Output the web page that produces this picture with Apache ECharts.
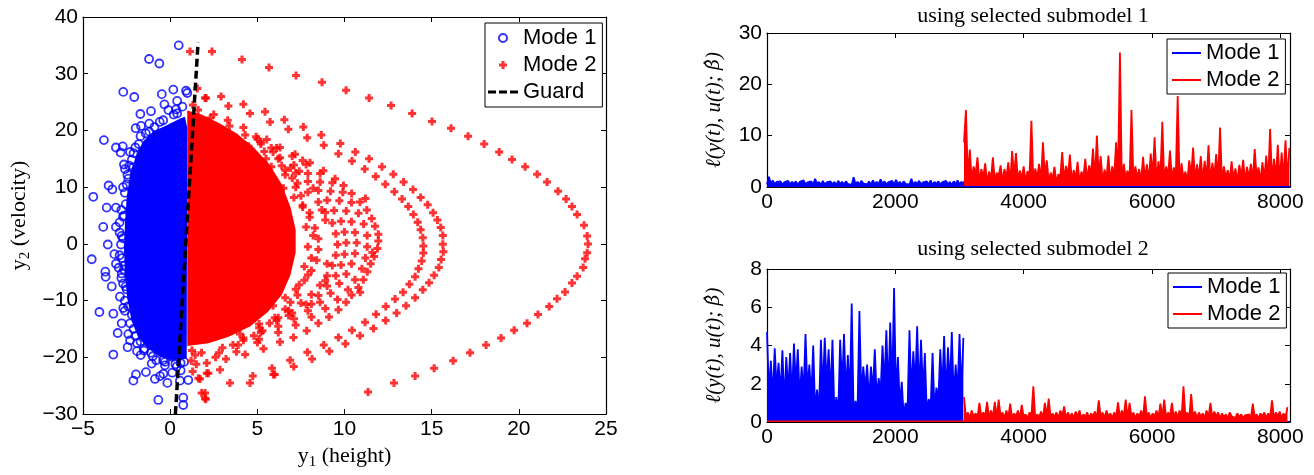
<!DOCTYPE html>
<html><head><meta charset="utf-8">
<script src="https://cdn.jsdelivr.net/npm/echarts@6/dist/echarts.min.js"></script>
<style>html,body{margin:0;padding:0;background:#fff}#c{width:1314px;height:475px}</style>
</head><body><div id="c"></div><script>
// ---------------- DATA ----------------
const GUARD = [[0.3, -30], [1.6, 35.5]];

// dense core regions of the phase-plane cloud (boundary)
const MODE1_CORE = [[0.57,22.1],[-0.2,20.9],[-0.97,19.8],[-1.54,18.1],[-1.92,15.8],[-2.3,12.3],[-2.49,8.3],[-2.59,3.7],[-2.65,-0.9],[-2.59,-5.5],[-2.46,-9.6],[-2.21,-13.6],[-1.83,-16.5],[-1.25,-18.5],[-0.58,-19.9],[0.09,-20.5],[0.95,-20.2],[0.98,20.4],[0.85,22.4]];
const MODE2_CORE = [[0.98,23.5],[1.8,22.8],[2.8,21.3],[3.8,19.5],[4.8,17],[5.7,14],[6.4,10.5],[6.9,6.5],[7.2,2.5],[7.2,-1.5],[6.9,-5.5],[6.4,-9],[5.6,-12],[4.6,-14.5],[3.4,-16.3],[2.2,-17.5],[0.98,-18]];

const MODE1_POINTS = [[0.49,35.0],[-1.21,32.6],[-0.62,31.8],[-2.69,26.8],[-2.06,25.9],[-0.48,26.4],[0.18,27.2],[0.91,27.0],[0.98,26.6],[-0.33,24.6],[-1.1,23.4],[-1.71,22.9],[0.34,23.7],[-1.98,20.4],[-1.67,20.8],[-3.8,18.3],[-3.11,17.0],[-2.72,17.2],[-2.84,16.1],[-2.3,16.2],[-2.65,14.0],[-2.59,13.2],[-2.11,13.5],[-3.53,10.3],[-3.32,9.6],[-4.41,8.3],[-3.64,6.4],[-3.11,6.4],[-3.84,3.0],[-3.11,3.0],[-2.78,1.4],[-3.58,-0.1],[-2.82,-0.1],[-4.5,-2.7],[-3.2,-1.8],[-3.11,-3.5],[-3.72,-4.9],[-3.7,-5.8],[-3.35,-7.5],[-2.78,-5.2],[-2.88,-9.3],[-2.69,-11.3],[-4.06,-12.0],[-3.26,-12.3],[-2.78,-14.0],[-3.01,-15.7],[-2.4,-15.9],[-3.26,-19.5],[-2.44,-18.2],[-1.69,-19.6],[-1.96,-23.0],[-2.11,-24.1],[-1.39,-22.6],[-0.87,-23.8],[-0.58,-23.3],[-0.39,-22.9],[-0.16,-24.5],[0.12,-22.7],[-0.68,-27.5],[0.75,-27.1],[0.75,-28.4],[1.04,-24.0],[0.56,-24.1],[-1.06,-21.1],[-0.3,-21.4],[0.38,-21.6],[0.09,-19.9],[-2.7,10.0],[-2.8,6.0],[-2.9,2.0],[-2.9,-2.0],[-2.8,-6.0],[-2.6,-10.0],[-2.3,-14.0],[-1.9,-17.5],[-1.0,-19.8],[-2.1,16.0],[-1.4,19.5],[-0.6,21.5],[0.2,22.8],[0.7,24.2],[-2.4,11.5],[-2.5,-8.0],[-2.0,-16.2],[-1.5,-18.8],[-0.3,-20.8],[0.6,-21.0],[-1.8,17.6],[-0.9,20.6],[0.4,25.2],[-2.2,-12.5],[-2.6,-3.8],[-2.7,4.8],
 [-2.5,10.5],[-2.55,7.0],[-2.65,5.0],[-2.7,1.0],[-2.75,-2.5],[-2.65,-4.5],[-2.55,-7.5],[-2.4,-11.0],[-2.1,-15.0],[-1.7,-17.2],[-1.1,-19.2],[-0.4,-20.5],[0.3,-21.2],[0.8,-20.8],[-2.35,13.8],[-2.0,17.0],[-1.2,19.8],[-0.4,21.8],[0.4,23.0],[-1.7,19.0],[-2.2,14.8],[-2.6,9.0],[-2.7,-7.0],[-1.5,-18.5],[-0.8,-20.5],[0.6,-22.3],[-2.45,12.2],[-2.6,-11.8],[-1.2,21.2],[-0.1,23.6],[-1.9,-18.9],[-2.9,3.8],[-2.95,-4.2],[-2.3,-17.0]];

const MODE2_OUTER = [[1.14,33.9],[2.4,33.9],[4.12,32.5],[5.67,31.1],[7.22,29.7],[8.71,28.5],[10.09,27.1],[11.41,25.7],[12.67,24.4],[13.88,23.0],[15.02,21.6],[16.11,20.4],[17.09,19.0],[18.01,17.6],[18.87,16.2],[19.61,14.9],[20.36,13.6],[21.05,12.3],[21.62,10.9],[22.25,9.3],[22.71,7.9],[23.05,6.6],[23.34,5.2],[23.74,3.3],[23.92,1.4],[23.97,0],[23.92,-1.55],[23.8,-2.6],[23.69,-4.15],[23.34,-5.7],[23.05,-6.9],[22.65,-8.46],[22.19,-9.67],[21.74,-11.05],[21.1,-12.44],[20.47,-14.0],[19.73,-15.2],[18.98,-16.6],[18.12,-17.8],[17.2,-19.2],[16.23,-20.6],[15.14,-21.9],[14.05,-23.3],[12.84,-24.5],[11.35,-26.1]];
const MODE2_RING_A = [[2.92,26.0],[4.2,24.6],[5.44,23.3],[6.55,21.9],[7.64,20.6],[8.67,19.2],[9.76,17.7],[10.62,16.2],[11.41,15.0],[12.15,13.6],[12.8,12.3],[13.39,10.9],[13.93,9.6],[14.37,8.2],[14.77,6.9],[15.08,5.5],[15.33,4.2],[15.52,2.9],[15.64,1.5],[15.64,-0.06],[15.67,-1.38],[15.54,-2.76],[15.41,-4.15],[15.14,-5.53],[14.85,-6.85],[14.49,-8.1],[14.05,-9.5],[13.53,-10.9],[12.99,-12.2],[12.36,-13.5],[11.66,-14.9],[10.89,-16.2],[10.05,-17.6],[9.13,-18.9],[8.14,-20.3],[7.09,-21.6],[6.0,-23.0],[4.58,-24.5],[3.43,-24.5],[1.81,-26.3],[2.0,-27.2]];
const MODE2_RING_B = [[2.0,25.7],[3.34,24.3],[4.58,23.0],[5.73,21.5],[6.78,20.2],[7.86,18.7],[8.81,17.4],[9.65,15.9],[10.43,14.6],[11.16,13.2],[11.79,11.9],[12.34,10.5],[12.86,9.2],[13.3,7.9],[13.66,6.6],[13.95,5.2],[14.2,3.8],[14.37,2.5],[14.49,1.1],[14.52,-0.35],[14.52,-1.6],[14.43,-3.0],[14.24,-4.4],[14.05,-5.8],[13.72,-7.1],[13.36,-8.5],[12.9,-9.7],[12.37,-11.05],[11.81,-12.4],[11.18,-13.8],[10.43,-15.2],[9.65,-16.5],[8.81,-17.8],[7.87,-19.1],[6.88,-20.5],[5.84,-21.9],[4.74,-23.3],[5.92,-23.0],[2.86,-22.2],[2.19,-22.8],[1.71,-23.8]];
const MODE2_RING_C = [[4.93,18.9],[5.54,18.4],[6.3,17.0],[7.16,15.8],[8.02,14.3],[8.79,12.9],[9.46,11.5],[9.94,10.3],[10.41,8.9],[10.89,7.4],[11.28,6.0],[11.56,4.5],[11.75,3.1],[11.94,1.7],[11.94,0.5],[11.89,-0.8],[11.7,-2.2],[11.5,-3.5],[11.31,-4.9],[11.08,-6.3],[10.8,-7.7],[10.41,-9.0],[10.09,-10.3],[9.65,-11.6],[9.11,-12.9],[8.5,-14.0],[7.83,-15.3],[7.07,-16.5],[6.3,-17.3],[5.35,-18.5],[4.3,-19.5],[3.2,-20.3],[2.1,-21.0]];
const MODE2_RING_D = [[4.5,17.2],[5.4,16.3],[6.3,15.2],[7.1,13.9],[7.9,12.4],[8.6,10.9],[9.2,9.3],[9.7,7.6],[10.1,5.8],[10.4,3.9],[10.6,2.0],[10.7,0.2],[10.6,-1.7],[10.4,-3.5],[10.1,-5.3],[9.7,-7.0],[9.2,-8.7],[8.6,-10.3],[7.9,-11.8],[7.1,-13.2],[6.2,-14.5],[5.2,-15.6],[4.2,-16.6]];
const MODE2_RING_E = [[4.0,15.8],[4.9,14.8],[5.8,13.6],[6.6,12.2],[7.3,10.7],[7.9,9.1],[8.5,7.4],[8.9,5.6],[9.3,3.7],[9.5,1.8],[9.6,-0.1],[9.5,-2.0],[9.3,-3.8],[9.0,-5.6],[8.6,-7.3],[8.1,-8.9],[7.5,-10.4],[6.8,-11.8],[6.0,-13.0],[5.1,-14.1]];
const MODE2_RING_F = [[5.0,12.5],[5.8,11.2],[6.5,9.8],[7.1,8.2],[7.6,6.5],[8.0,4.7],[8.3,2.8],[8.5,0.9],[8.5,-1.0],[8.4,-2.9],[8.1,-4.7],[7.7,-6.4],[7.2,-8.0],[6.6,-9.5],[5.9,-10.9],[11.2,8.0],[11.6,-1.5],[10.9,-8.5],[5.8,16.9],[7.6,14.7]];
const MODE2_RING_G = [[5.2,18.0],[6.1,16.9],[7.0,15.5],[7.8,14.0],[8.6,12.4],[9.3,10.8],[9.9,9.1],[10.4,7.3],[10.8,5.4],[11.1,3.5],[11.3,1.5],[11.3,-0.5],[11.2,-2.5],[11.0,-4.4],[10.6,-6.3],[10.2,-8.1],[9.6,-9.8],[8.9,-11.4],[8.1,-12.9],[7.2,-14.3],[6.2,-15.6],[5.1,-16.8],[3.9,-17.8]];
const MODE2_RING_H = [[4.6,16.0],[5.5,15.0],[6.4,13.8],[7.2,12.5],[7.9,11.0],[8.5,9.4],[9.0,7.7],[9.4,5.9],[9.8,4.0],[10.0,2.1],[10.1,0.2],[10.0,-1.8],[9.8,-3.7],[9.5,-5.6],[9.0,-7.4],[8.5,-9.1],[7.8,-10.7],[7.0,-12.2],[6.1,-13.5],[5.1,-14.8],[4.0,-15.9]];
const MODE2_EDGE = [[1.3,24.5],[1.6,23.6],[2.5,22.8],[3.3,21.8],[4.2,20.5],[5.0,18.5],[5.9,16.2],[6.6,13.0],[7.2,10.0],[7.6,6.8],[7.8,3.0],[7.9,-0.5],[7.7,-4.0],[7.4,-7.2],[6.9,-10.3],[6.2,-13.0],[5.3,-15.3],[4.2,-17.0],[3.0,-18.3],[1.8,-19.2],[1.25,-18.8],[1.43,-19.6],[1.29,-22.5],[1.62,-23.7],[2.1,-22.8],[2.0,-26.3],[2.04,-27.4],[1.56,27.4],[2.06,25.7],[1.2,-20.6],[1.5,-21.2],[2.6,-20.0],[3.8,-19.0],
 [7.5,8.5],[8.0,5.5],[8.2,1.5],[8.1,-2.5],[7.9,-5.5],[7.3,-9.0],[6.6,-11.5],[5.7,-14.0],[4.8,-16.2],[3.6,-17.8],[6.2,15.0],[5.2,17.6],[4.3,19.2],[3.4,20.8],[2.3,22.2],[7.0,11.6],[8.9,4.2],[9.0,-3.5],[8.7,6.0],[6.8,-12.6],[5.0,-17.4],[2.8,-19.2],[7.4,12.8],[8.2,9.8],[8.9,-6.5],[8.1,-10.6],[6.9,13.4]];

// right panels: cost over time (t = start + i*step)
const STEP = 30;
const T_SWITCH = 3070;
const T_END = 8150;
const TOP_MODE1 = [0.5,2.0,0.6,1.3,0.5,1.0,0.7,1.1,0.4,0.9,0.6,1.2,0.5,1.0,0.6,1.1,0.4,1.0,0.7,1.3,0.5,0.9,0.6,1.1,0.5,1.6,0.6,1.0,0.4,1.2,0.5,0.9,0.7,1.1,0.5,1.0,0.4,1.2,0.6,1.0,0.5,1.1,0.6,0.9,0.4,1.9,0.6,1.0,0.5,1.2,0.7,1.0,0.5,1.1,0.4,1.3,0.6,1.0,0.5,1.5,0.6,1.1,0.5,0.9,0.7,1.2,0.4,1.4,0.6,1.0,0.5,1.1,0.6,0.9,0.5,1.6,0.4,1.0,0.6,1.2,0.5,0.9,0.7,1.1,0.5,1.3,0.4,1.0,0.6,1.1,0.5,0.9,0.6,1.2,0.5,1.0,0.4,1.1,0.6,1.3,0.5,1.0,0.6,1.5];
const TOP_MODE2 = [8.7,15.0,1.6,7.3,1.3,4.0,2.4,5.8,1.0,3.5,
 1.9,4.6,0.8,3.0,1.6,5.8,1.1,2.8,2.2,4.2,
 1.0,3.5,1.8,4.8,0.8,7.0,2.1,6.6,1.3,3.2,
 1.6,4.0,1.0,3.1,1.9,12.9,1.3,3.6,1.8,4.5,
 1.1,8.7,2.1,5.2,1.0,2.8,1.6,3.9,0.8,2.5,
 1.9,6.8,1.3,4.1,2.2,6.3,1.1,3.3,1.6,4.9,
 1.0,3.0,1.9,5.5,1.3,4.2,2.4,7.5,1.4,10.0,
 2.1,6.0,1.1,3.4,1.6,6.1,1.0,4.0,1.9,8.7,
 2.4,26.2,0.6,4.5,1.8,3.2,1.3,15.0,1.1,4.0,
 1.9,3.5,1.0,5.9,1.6,4.4,1.3,6.5,2.1,9.7,
 1.1,5.0,1.9,12.7,1.0,4.0,2.2,7.1,1.4,3.8,
 1.8,17.7,0.5,4.6,1.6,3.0,1.1,5.2,2.1,7.7,
 1.3,4.4,1.9,6.0,1.0,5.1,1.6,8.1,1.1,4.7,
 2.1,6.4,1.4,11.6,1.0,4.0,1.9,3.3,1.3,5.0,
 1.6,3.6,1.0,4.3,1.9,5.3,1.1,3.9,1.8,4.5,
 1.3,7.4,2.1,3.8,1.0,4.8,1.6,6.1,1.4,11.3,
 1.1,5.5,1.9,8.2,1.0,6.7,1.8,9.1,1.3,7.6];
const TOP_MODE1_LATE = 0.06;
const TOP_MODE2_EARLY = 0.05;

const BOT_MODE1 = [4.7,1.5,3.2,1.2,3.85,1.8,3.1,1.4,3.75,0.9,3.4,1.6,3.6,1.3,4.1,1.9,3.8,1.2,2.9,1.5,4.6,1.7,3.0,1.3,4.0,0.6,1.7,0.5,4.3,1.6,4.4,1.9,3.8,1.4,4.3,0.5,1.3,0.4,4.3,1.8,4.6,1.5,3.5,1.2,6.2,0.4,1.1,0.5,5.8,1.3,2.9,1.7,3.0,1.1,2.9,1.6,3.8,1.2,2.3,1.5,4.0,1.9,4.8,1.4,5.2,1.7,7.0,1.3,3.4,0.8,2.1,0.3,1.0,0.6,4.8,1.5,3.7,1.9,5.0,1.4,4.3,1.6,3.6,0.5,1.2,0.7,3.6,0.6,1.8,1.1,3.8,1.6,4.5,1.3,3.9,1.8,4.7,1.2,3.0,1.5,4.6,1.4,4.4];
const BOT_MODE2 = [1.3,0.25,0.5,0.2,0.6,0.3,0.45,0.2,1.0,0.25,0.5,0.3,1.05,0.2,0.6,0.25,1.05,0.2,1.17,0.3,0.5,0.2,0.6,0.25,0.96,0.2,0.45,0.3,0.6,0.2,0.9,0.25,0.4,0.2,0.5,0.3,1.86,0.2,0.4,0.25,0.55,0.2,1.0,0.3,1.22,0.2,0.45,0.25,0.5,0.2,0.6,0.3,0.82,0.2,0.5,0.25,0.45,0.2,0.55,0.3,0.6,0.2,0.4,0.25,0.5,0.2,0.45,0.3,0.55,0.2,1.13,0.25,0.5,0.2,0.6,0.3,0.45,0.2,0.5,0.25,1.03,0.2,0.6,0.3,1.17,0.2,1.0,0.25,0.5,0.2,0.45,0.3,0.6,0.2,1.34,0.25,0.5,0.2,0.45,0.3,0.6,0.2,0.96,0.25,1.17,0.2,0.5,0.3,1.0,0.2,0.55,0.25,0.6,0.2,1.86,0.3,0.5,0.2,1.46,0.25,0.55,0.2,0.5,0.3,0.45,0.2,0.6,0.25,1.0,0.2,0.55,0.3,0.5,0.2,0.45,0.25,0.4,0.2,0.5,0.3,0.4,0.2,0.45,0.25,0.4,0.2,0.35,0.3,0.4,0.2,0.96,0.25,0.4,0.2,0.45,0.3,0.5,0.2,0.45,0.25,1.13,0.2,0.5,0.3,0.55,0.2,0.45,0.25,0.78];
const BOT_MODE1_LATE = 0.02;
const BOT_MODE2_EARLY = 0.04;

const TITLES = ['using selected submodel 1', 'using selected submodel 2'];

// ---------------- CHART ----------------
const SANS = '"Liberation Sans", Arial, Helvetica, sans-serif';
const SERIF = '"Liberation Serif", "Times New Roman", serif';
const BLUE = '#0000ff', RED = '#ff0000';
const PLUS = 'path://M2.5,0h3v2.5h2.5v3h-2.5v2.5h-3v-2.5h-2.5v-3h2.5z';
const DASH_ICON = 'path://M0,0h8v3h-8z M11,0h8v3h-8z M22,0h8v3h-8z';

const toXY = (arr, start) => arr.map((v, i) => [start + i * STEP, v]);
const minusFmt = v => String(v).replace('-', '\u2212');

function axisBase(extra) {
  return Object.assign({
    type: 'value',
    axisLine: {show: true, onZero: false, lineStyle: {color: '#000', width: 1.2}},
    axisTick: {show: true, inside: true, length: 5, lineStyle: {color: '#000', width: 1}},
    splitLine: {show: false},
    axisLabel: {color: '#000', fontFamily: SANS, fontSize: 21, margin: 5, formatter: minusFmt}
  }, extra);
}
const noLab = {show: false};
const tFmt = v => (v % 2000 === 0 ? String(v) : '');
const subRich = {n: {fontFamily: SERIF, fontSize: 22, color: '#000', lineHeight: 28}, s: {fontFamily: SERIF, fontSize: 15, color: '#000', verticalAlign: 'bottom', lineHeight: 15}};

const grids = [
  {left: 83, right: 708, top: 17, bottom: 53},
  {left: 767, right: 24, top: 33, bottom: 288},
  {left: 767, right: 24, top: 269, bottom: 53}
];

const xAxis = [
  axisBase({gridIndex: 0, position: 'bottom', min: -5, max: 25, interval: 5,
    name: '{n|y}{s|1}{n| (height)}', nameLocation: 'middle', nameGap: 22, nameTextStyle: {rich: subRich}}),
  axisBase({gridIndex: 0, position: 'top', min: -5, max: 25, interval: 5, axisLabel: noLab}),
  axisBase({gridIndex: 1, position: 'bottom', min: 0, max: T_END, interval: 2000, axisLabel: {color: '#000', fontFamily: SANS, fontSize: 21, margin: 5, formatter: tFmt}}),
  axisBase({gridIndex: 1, position: 'top', min: 0, max: T_END, interval: 2000, axisLabel: noLab}),
  axisBase({gridIndex: 2, position: 'bottom', min: 0, max: T_END, interval: 2000, axisLabel: {color: '#000', fontFamily: SANS, fontSize: 21, margin: 5, formatter: tFmt}}),
  axisBase({gridIndex: 2, position: 'top', min: 0, max: T_END, interval: 2000, axisLabel: noLab})
];
const costName = '{i|ℓ(y(t), u(t); }{b|β̂}{i|)}';
const costStyle = {rich: {
  i: {fontFamily: SERIF, fontStyle: 'italic', fontSize: 21, color: '#000'},
  b: {fontFamily: '"DejaVu Serif", serif', fontStyle: 'italic', fontSize: 19, color: '#000'}}};
const yAxis = [
  axisBase({gridIndex: 0, position: 'left', min: -30, max: 40, interval: 10,
    name: '{n|y}{s|2}{n| (velocity)}', nameLocation: 'middle', nameGap: 50, nameTextStyle: {rich: subRich}}),
  axisBase({gridIndex: 0, position: 'right', min: -30, max: 40, interval: 10, axisLabel: noLab}),
  axisBase({gridIndex: 1, position: 'left', min: 0, max: 30, interval: 10, name: costName, nameLocation: 'middle', nameGap: 42, nameTextStyle: costStyle}),
  axisBase({gridIndex: 1, position: 'right', min: 0, max: 30, interval: 10, axisLabel: noLab}),
  axisBase({gridIndex: 2, position: 'left', min: 0, max: 8, interval: 2, name: costName, nameLocation: 'middle', nameGap: 42, nameTextStyle: costStyle}),
  axisBase({gridIndex: 2, position: 'right', min: 0, max: 8, interval: 2, axisLabel: noLab})
];

function poly(name, pts, color) {
  return {type: 'custom', name, xAxisIndex: 0, yAxisIndex: 0, data: pts, silent: true, z: 1,
    encode: {x: 0, y: 1},
    renderItem: (params, api) => {
      if (params.dataIndex !== 0) return null;
      return {type: 'polygon', shape: {points: pts.map(p => api.coord(p))}, style: {fill: color}};
    }};
}
const circ = {type: 'scatter', xAxisIndex: 0, yAxisIndex: 0, symbol: 'circle', symbolSize: 8,
  itemStyle: {color: 'rgba(0,0,0,0)', borderColor: BLUE, borderWidth: 1.8}, z: 2};
const plus = {type: 'scatter', xAxisIndex: 0, yAxisIndex: 0, symbol: PLUS, symbolSize: 8,
  itemStyle: {color: RED}, z: 3};
const red2 = [].concat(MODE2_OUTER, MODE2_RING_A, MODE2_RING_B, MODE2_RING_C, MODE2_RING_D, MODE2_RING_E, MODE2_RING_F, MODE2_RING_G, MODE2_RING_H, MODE2_EDGE);

function ln(name, xi, yi, data, color, area, z, w) {
  const s = {type: 'line', name, xAxisIndex: xi, yAxisIndex: yi, data, symbol: 'none', showSymbol: false,
    sampling: null, lineStyle: {color, width: w || 1.2}, itemStyle: {color}, z: z || 2, silent: true};
  if (area) s.areaStyle = {color, opacity: 1};
  return s;
}

const series = [
  Object.assign({}, circ, {name: 'Mode 1', data: MODE1_POINTS}),
  poly('core1', MODE1_CORE, BLUE),
  Object.assign({}, plus, {name: 'Mode 2', data: red2}),
  poly('core2', MODE2_CORE, RED),
  {type: 'line', name: 'Guard', xAxisIndex: 0, yAxisIndex: 0, data: GUARD, symbol: 'none',
    lineStyle: {color: '#000', width: 3.5, type: [8, 4]}, itemStyle: {color: '#000'}, z: 5, silent: true},

  ln('Mode 1#t', 2, 2, toXY(TOP_MODE1, 0), BLUE, true, 2, 1.8),
  ln('Mode 2#t', 2, 2, toXY(TOP_MODE2, T_SWITCH), RED, true, 3, 1.8),
  ln('m2early_t', 2, 2, [[0, TOP_MODE2_EARLY], [T_SWITCH, TOP_MODE2_EARLY]], RED, false, 1),
  ln('m1late_t', 2, 2, [[T_SWITCH, TOP_MODE1_LATE], [T_END, TOP_MODE1_LATE]], BLUE, false, 4, 1.5),

  ln('Mode 1#b', 4, 4, toXY(BOT_MODE1, 0), BLUE, true, 2, 1.8),
  ln('Mode 2#b', 4, 4, toXY(BOT_MODE2, T_SWITCH), RED, true, 3, 1.8),
  ln('m2early_b', 4, 4, [[0, BOT_MODE2_EARLY], [T_SWITCH, BOT_MODE2_EARLY]], RED, false, 4, 1.5),
  ln('m1late_b', 4, 4, [[T_SWITCH, BOT_MODE1_LATE], [T_END, BOT_MODE1_LATE]], BLUE, false, 1)
];

const legendBase = {orient: 'vertical', backgroundColor: '#fff', borderColor: '#000', borderWidth: 1,
  itemGap: 5, itemWidth: 30, itemHeight: 8, selectedMode: false,
  formatter: n => n.split('#')[0],
  textStyle: {fontFamily: SANS, fontSize: 22, color: '#000', lineHeight: 22}};

const option = {
  animation: false,
  backgroundColor: '#fff',
  title: [
    {text: TITLES[0], left: 1028, top: 0, textAlign: 'center', textStyle: {fontFamily: SERIF, fontSize: 22, fontWeight: 'normal', color: '#000'}},
    {text: TITLES[1], left: 1028, top: 233, textAlign: 'center', textStyle: {fontFamily: SERIF, fontSize: 22, fontWeight: 'normal', color: '#000'}}
  ],
  grid: grids,
  xAxis, yAxis,
  legend: [
    Object.assign({}, legendBase, {left: 485, top: 23, padding: [4, 6, 4, 3],
      data: ['Mode 1', 'Mode 2', {name: 'Guard', icon: DASH_ICON, itemStyle: {color: '#000'}}]}),
    Object.assign({}, legendBase, {left: 1167, top: 39, padding: [3, 6, 3, 5], itemWidth: 29, itemHeight: 2,
      data: [{name: 'Mode 1#t', icon: 'rect'}, {name: 'Mode 2#t', icon: 'rect'}]}),
    Object.assign({}, legendBase, {left: 1168, top: 273, padding: [3, 6, 3, 5], itemWidth: 29, itemHeight: 2,
      data: [{name: 'Mode 1#b', icon: 'rect'}, {name: 'Mode 2#b', icon: 'rect'}]})
  ],
  series
};
const chart = echarts.init(document.getElementById('c'), null, {renderer: 'canvas'});
chart.setOption(option);
</script></body></html>
